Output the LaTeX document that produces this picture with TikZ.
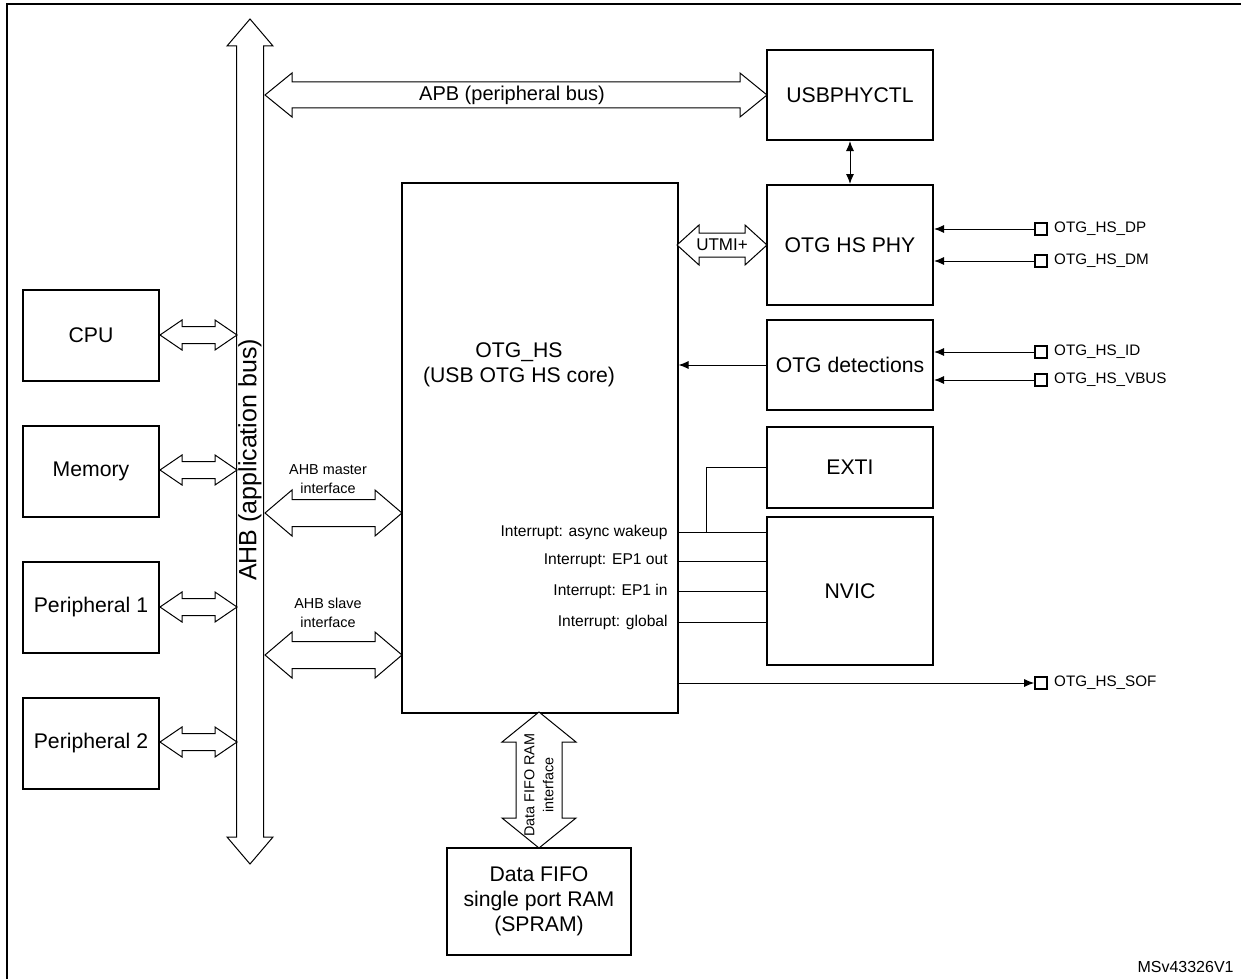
\documentclass[tikz,border=0pt]{standalone}
\usepackage{fontspec}
\setmainfont{Liberation Sans}
\usetikzlibrary{arrows.meta,positioning}

% fat double arrows: left/top, right/bottom, centre, shaft half, head half, head length
\newcommand{\hfat}[6]{%
  \draw[fill=white,line width=0.5pt] (#1,#3) -- (#1+#6,#3-#5) -- (#1+#6,#3-#4) -- (#2-#6,#3-#4)
    -- (#2-#6,#3-#5) -- (#2,#3) -- (#2-#6,#3+#5) -- (#2-#6,#3+#4) -- (#1+#6,#3+#4)
    -- (#1+#6,#3+#5) -- cycle;}
\newcommand{\vfat}[6]{%
  \draw[fill=white,line width=0.5pt] (#3,#1) -- (#3+#5,#1+#6) -- (#3+#4,#1+#6) -- (#3+#4,#2-#6)
    -- (#3+#5,#2-#6) -- (#3,#2) -- (#3-#5,#2-#6) -- (#3-#4,#2-#6) -- (#3-#4,#1+#6)
    -- (#3-#5,#1+#6) -- cycle;}

\tikzset{
  blk/.style={draw,line width=1pt,align=center,font=\fontsize{10.6}{12.5}\selectfont,inner sep=0pt},
  pin/.style={draw,line width=0.8pt,minimum size=6pt,inner sep=0pt},
  pinlbl/.style={font=\fontsize{7.6}{9}\selectfont,anchor=west,inner sep=3pt},
  irq/.style={font=\fontsize{7.8}{9}\selectfont,anchor=east,inner sep=0pt},
  small/.style={font=\fontsize{7.2}{9.5}\selectfont,align=center},
  sig/.style={line width=0.5pt},
  sigarrow/.style={sig,-{Latex[length=5pt,width=4pt]}}
}

\begin{document}
\begin{tikzpicture}[x=0.5pt,y=-0.5pt]
  \useasboundingbox (0,0) rectangle (1241,979);
  \draw[line width=1pt] (7,979) -- (7,4) -- (1241,4);

  % blocks
  \node[blk,minimum width=138pt,minimum height=265pt] (core) at (539.5,447.5) {};
  \node[blk,draw=none] (corelbl) at (519,365) {OTG\_HS\\(USB OTG HS core)};
  \node[blk,minimum width=83pt,minimum height=45pt] (phyctl) at (850,95) {USBPHYCTL};
  \node[blk,minimum width=83pt,minimum height=60pt] (phy) at (850,245) {OTG HS PHY};
  \node[blk,minimum width=83pt,minimum height=45pt] (det) at (850,365) {OTG detections};
  \node[blk,minimum width=83pt,minimum height=40.5pt] (exti) at (850,467.5) {EXTI};
  \node[blk,minimum width=83pt,minimum height=74pt] (nvic) at (850,591) {NVIC};
  \node[blk,minimum width=68pt,minimum height=45.5pt] (cpu) at (91,335.5) {CPU};
  \node[blk,minimum width=68pt,minimum height=45.5pt] (mem) at (91,471.5) {Memory};
  \node[blk,minimum width=68pt,minimum height=45.5pt] (per1) at (91,607) {Peripheral 1};
  \node[blk,minimum width=68pt,minimum height=45.5pt] (per2) at (91,743) {Peripheral 2};
  \node[blk,minimum width=92pt,minimum height=53.5pt] (fifo) at (539,901.5) {Data FIFO\\single port RAM\\(SPRAM)};

  % buses
  \vfat{19}{864}{250}{13.5}{23}{27}
  \node[rotate=90,font=\fontsize{12.5}{14}\selectfont] (ahb) at (250,460) {AHB (application bus)};
  \hfat{265}{767}{95}{13}{22}{27}
  \node[font=\fontsize{10}{12}\selectfont] (apb) at (512,95) {APB (peripheral bus)};
  \hfat{160}{237}{335}{8.5}{15}{22}
  \hfat{160}{237}{470}{8.5}{15}{22}
  \hfat{160}{237}{607}{8.5}{15}{22}
  \hfat{160}{237}{742}{8.5}{15}{22}
  \hfat{265}{402}{513}{13.5}{23}{27}
  \node[small] (mif) at (328,479) {AHB master\\interface};
  \hfat{265}{402}{655}{13.5}{23}{27}
  \node[small] (sif) at (328,613) {AHB slave\\interface};
  \hfat{677}{767}{245}{12}{20}{22}
  \node[font=\fontsize{8.5}{10}\selectfont] (utmi) at (722,245) {UTMI+};
  \vfat{712}{848}{539}{23}{37}{30}
  \node[rotate=90,small] (fif) at (539,785) {Data FIFO RAM\\interface};

  \draw[sig,{Latex[length=5pt,width=4pt]}-{Latex[length=5pt,width=4pt]}] (phyctl) -- (phy);

  % pins
  \node[pin] (dp) at (1041,229) {};
  \node[pin] (dm) at (1041,261) {};
  \node[pin] (id) at (1041,352) {};
  \node[pin] (vbus) at (1041,380) {};
  \node[pin] (sof) at (1041,683) {};
  \node[pinlbl] at (dp.east) {OTG\_HS\_DP};
  \node[pinlbl] at (dm.east) {OTG\_HS\_DM};
  \node[pinlbl] at (id.east) {OTG\_HS\_ID};
  \node[pinlbl] at (vbus.east) {OTG\_HS\_VBUS};
  \node[pinlbl] at (sof.east) {OTG\_HS\_SOF};
  \draw[sigarrow] (dp) -- (phy.east |- dp);
  \draw[sigarrow] (dm) -- (phy.east |- dm);
  \draw[sigarrow] (id) -- (det.east |- id);
  \draw[sigarrow] (vbus) -- (det.east |- vbus);
  \draw[sigarrow] (det) -- (core.east |- det);
  \draw[sigarrow] (core.east |- sof) -- (sof);

  % interrupts
  \foreach \y/\txt [count=\i] in {532/async wakeup,561/EP1 out,591/EP1 in,622/global} {
    \node[irq] (irq\i) at (668,\y) {Interrupt: \txt};
    \draw[sig] (core.east |- irq\i) -- (nvic.west |- irq\i);
  }
  \coordinate (wk) at (706,532);
  \draw[sig] (wk) -- (wk |- exti) -- (exti.west);

  \node[font=\fontsize{8}{9}\selectfont,anchor=base east,inner sep=0pt] (ref) at (1234,972) {MSv43326V1};
\end{tikzpicture}
\end{document}
